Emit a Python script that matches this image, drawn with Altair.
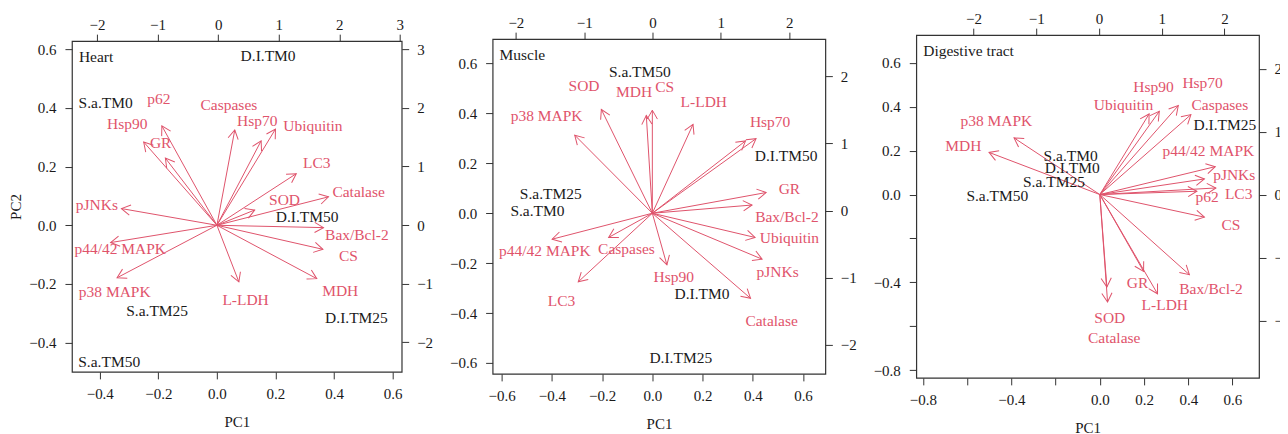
import altair as alt
import pandas as pd

PINK = "#DF536B"
INK = "#1a1a1a"
FONT = "'Liberation Serif', 'DejaVu Serif', 'Times New Roman', serif"

# ---------------- Heart ----------------
heart_vars = ["p62", "Hsp90", "GR", "Caspases", "Hsp70", "Ubiquitin", "LC3", "Catalase",
              "SOD", "Bax/Bcl-2", "CS", "MDH", "L-LDH", "p38 MAPK", "p44/42 MAPK", "pJNKs"]
heart_tip_x = [-0.188, -0.250, -0.176, 0.061, 0.151, 0.200, 0.271, 0.381,
               0.129, 0.364, 0.362, 0.341, 0.075, -0.341, -0.363, -0.326]
heart_tip_y = [0.339, 0.284, 0.229, 0.325, 0.288, 0.328, 0.176, 0.097,
               0.052, -0.008, -0.082, -0.182, -0.193, -0.179, -0.059, 0.057]
heart_lab_x = [-0.198, -0.306, -0.192, 0.041, 0.138, 0.328, 0.341, 0.484,
               0.231, 0.478, 0.449, 0.421, 0.098, -0.349, -0.330, -0.410]
heart_lab_y = [0.430, 0.345, 0.282, 0.410, 0.356, 0.339, 0.211, 0.114,
               0.086, -0.034, -0.105, -0.224, -0.255, -0.226, -0.082, 0.068]
heart_obs = ["D.I.TM0", "S.a.TM0", "D.I.TM50", "S.a.TM25", "D.I.TM25", "S.a.TM50"]
heart_obs_x = [0.825, -1.858, 1.469, -1.007, 2.284, -1.799]
heart_obs_y = [2.880, 2.077, 0.131, -1.473, -1.592, -2.333]

# ---------------- Muscle ----------------
muscle_vars = ["SOD", "MDH", "CS", "L-LDH", "p38 MAPK", "Hsp70", "p62", "GR", "Bax/Bcl-2",
               "Ubiquitin", "pJNKs", "Catalase", "Hsp90", "Caspases", "LC3", "p44/42 MAPK"]
muscle_labels = ["SOD", "MDH", "CS", "L-LDH", "p38 MAPK", "Hsp70", "", "GR", "Bax/Bcl-2",
                 "Ubiquitin", "pJNKs", "Catalase", "Hsp90", "Caspases", "LC3", "p44/42 MAPK"]
muscle_tip_x = [-0.203, -0.024, 0.000, 0.162, -0.309, 0.413, 0.371, 0.453, 0.397,
                0.409, 0.437, 0.391, 0.058, -0.174, -0.295, -0.399]
muscle_tip_y = [0.416, 0.392, 0.413, 0.356, 0.313, 0.299, 0.290, 0.083, 0.033,
                -0.097, -0.184, -0.341, -0.207, -0.097, -0.275, -0.104]
muscle_lab_x = [-0.272, -0.073, 0.049, 0.205, -0.421, 0.469, 0.469, 0.546, 0.536,
                0.546, 0.499, 0.475, 0.085, -0.103, -0.362, -0.428]
muscle_lab_y = [0.512, 0.487, 0.507, 0.445, 0.389, 0.367, 0.367, 0.096, -0.017,
                -0.101, -0.235, -0.433, -0.257, -0.144, -0.353, -0.153]
muscle_obs = ["S.a.TM50", "D.I.TM50", "S.a.TM25", "S.a.TM0", "D.I.TM0", "D.I.TM25"]
muscle_obs_x = [-0.185, 1.956, -1.489, -1.684, 0.725, 0.414]
muscle_obs_y = [2.064, 0.817, 0.243, 0.000, -1.238, -2.193]

# ---------------- Digestive tract ----------------
dig_vars = ["MDH", "p38 MAPK", "Ubiquitin", "Hsp90", "Hsp70", "Caspases", "p44/42 MAPK", "pJNKs",
            "LC3", "p62", "CS", "Bax/Bcl-2", "GR", "L-LDH", "SOD", "Catalase"]
dig_tip_x = [-0.501, -0.388, 0.223, 0.269, 0.355, 0.412, 0.522, 0.473,
             0.525, 0.439, 0.473, 0.405, 0.198, 0.261, 0.032, 0.035]
dig_tip_y = [0.192, 0.258, 0.367, 0.379, 0.405, 0.364, 0.127, 0.071,
             0.030, 0.015, -0.103, -0.365, -0.350, -0.452, -0.421, -0.489]
dig_lab_x = [-0.617, -0.468, 0.107, 0.243, 0.465, 0.543, 0.491, 0.608,
             0.628, 0.485, 0.593, 0.503, 0.171, 0.294, 0.045, 0.065]
dig_lab_y = [0.223, 0.333, 0.408, 0.488, 0.508, 0.408, 0.197, 0.091,
             0.003, -0.009, -0.138, -0.429, -0.402, -0.505, -0.561, -0.652]
dig_obs = ["S.a.TM0", "D.I.TM0", "S.a.TM25", "S.a.TM50", "D.I.TM25"]
dig_obs_x = [-0.451, -0.425, -0.717, -1.619, 2.006]
dig_obs_y = [0.619, 0.423, 0.196, -0.016, 1.106]

panel_names = ["Heart", "Muscle", "Digestive tract"]

# axis tick values
heart_ticks = [-0.4, -0.2, 0.0, 0.2, 0.4, 0.6]
heart_sx_ticks = [-2, -1, 0, 1, 2, 3]
heart_sy_ticks = [-2, -1, 0, 1, 2, 3]
muscle_ticks = [-0.6, -0.4, -0.2, 0.0, 0.2, 0.4, 0.6]
muscle_s_ticks = [-2, -1, 0, 1, 2]
dig_ticks = [-0.8, -0.6, -0.4, -0.2, 0.0, 0.2, 0.4, 0.6]
dig_s_ticks = [-2, -1, 0, 1, 2]

HEAD = "M-0.5,0.866L0,0L0.5,0.866"
TS = 15.5


def panel(name, labels, tx, ty, lx, ly, obs, ox, oy,
          xdom, ydom, sxdom, sydom, w, h,
          xticks, yticks, sxticks, syticks, ytitle=None, hide=None):
    df = pd.DataFrame({"label": labels, "tx": tx, "ty": ty, "lx": lx, "ly": ly})
    df["ox"] = 0.0
    df["oy"] = 0.0
    odf = pd.DataFrame({"obs": obs, "sx": ox, "sy": oy})
    hide = hide or []
    lexpr = "datum.label"
    for v in hide:
        lexpr = f"abs(datum.value - ({v})) < 1e-6 ? '' : " + lexpr

    xax = alt.Axis(orient="bottom", values=xticks, format=".1f", title="PC1",
                   labelExpr=lexpr)
    if ytitle:
        yax = alt.Axis(orient="left", values=yticks, format=".1f", title=ytitle,
                       labelExpr=lexpr)
    else:
        yax = alt.Axis(orient="left", values=yticks, format=".1f", title=None,
                       labelExpr=lexpr)
    xs = alt.Scale(domain=xdom, nice=False, zero=False)
    ys = alt.Scale(domain=ydom, nice=False, zero=False)

    base = alt.Chart(df)
    rules = base.mark_rule(color=PINK, strokeWidth=1).encode(
        x=alt.X("ox:Q", scale=xs, axis=xax),
        y=alt.Y("oy:Q", scale=ys, axis=yax),
        x2="tx:Q", y2="ty:Q")
    heads = base.transform_calculate(
        ang="(atan2(datum.tx, datum.ty) * 180 / PI + 360) % 360"
    ).mark_point(shape=HEAD, filled=False, size=420, color=PINK, strokeWidth=1,
                 opacity=1).encode(
        x=alt.X("tx:Q", scale=xs, axis=xax),
        y=alt.Y("ty:Q", scale=ys, axis=yax),
        angle=alt.Angle("ang:Q", scale=None))
    texts = base.mark_text(color=PINK, fontSize=TS, font=FONT).encode(
        x=alt.X("lx:Q", scale=xs, axis=xax),
        y=alt.Y("ly:Q", scale=ys, axis=yax),
        text="label:N")
    title = alt.Chart(pd.DataFrame({"t": [name]})).mark_text(
        align="left", baseline="middle", fontSize=TS, font=FONT, color=INK
    ).encode(x=alt.value(7), y=alt.value(16), text="t:N")
    primary = alt.layer(rules, heads, texts, title)

    secondary = alt.Chart(odf).mark_text(color=INK, fontSize=TS, font=FONT).encode(
        x=alt.X("sx:Q", scale=alt.Scale(domain=sxdom, nice=False, zero=False),
                axis=alt.Axis(orient="top", values=sxticks, format="d", title=None)),
        y=alt.Y("sy:Q", scale=alt.Scale(domain=sydom, nice=False, zero=False),
                axis=alt.Axis(orient="right", values=syticks, format="d", title=None)),
        text="obs:N")
    return alt.layer(primary, secondary).resolve_scale(
        x="independent", y="independent").properties(width=w, height=h)


p1 = panel(panel_names[0], heart_vars, heart_tip_x, heart_tip_y, heart_lab_x, heart_lab_y,
           heart_obs, heart_obs_x, heart_obs_y,
           [-0.495, 0.631], [-0.50, 0.628], [-2.414, 3.031], [-2.504, 3.135], 330, 331,
           heart_ticks, heart_ticks, heart_sx_ticks, heart_sy_ticks, ytitle="PC2")
p2 = panel(panel_names[1], muscle_labels, muscle_tip_x, muscle_tip_y, muscle_lab_x, muscle_lab_y,
           muscle_obs, muscle_obs_x, muscle_obs_y,
           [-0.636, 0.689], [-0.644, 0.698], [-2.34, 2.53], [-2.43, 2.55], 333, 335,
           muscle_ticks, muscle_ticks, muscle_s_ticks, muscle_s_ticks)
p3 = panel(panel_names[2], dig_vars, dig_tip_x, dig_tip_y, dig_lab_x, dig_lab_y,
           dig_obs, dig_obs_x, dig_obs_y,
           [-0.83, 0.72], [-0.835, 0.726], [-2.91, 2.55], [-2.91, 2.535], 343, 343,
           dig_ticks, dig_ticks, dig_s_ticks, dig_s_ticks, hide=[-0.6, -0.2])

chart = alt.hconcat(p1, p2, p3, spacing=91, bounds="flush", center=True).properties(
    padding={"left": 0, "top": 2, "right": -11, "bottom": 0}
).configure_view(stroke="#333333", strokeWidth=1.2).configure_axis(
    grid=False, domain=False, tickColor="#333333", tickSize=7, tickWidth=1,
    labelFont=FONT, labelFontSize=15, labelColor=INK, labelPadding=7,
    titleFont=FONT, titleFontSize=15, titleColor=INK, titleFontWeight="normal",
    titlePadding=8
).configure_axisLeft(labelPadding=9, titlePadding=5).configure_axisRight(labelPadding=8
).configure_axisTop(labelPadding=2).configure_axisBottom(labelPadding=8, titlePadding=13)

chart.save("out.html", embed_options={"renderer": "svg", "actions": False})
